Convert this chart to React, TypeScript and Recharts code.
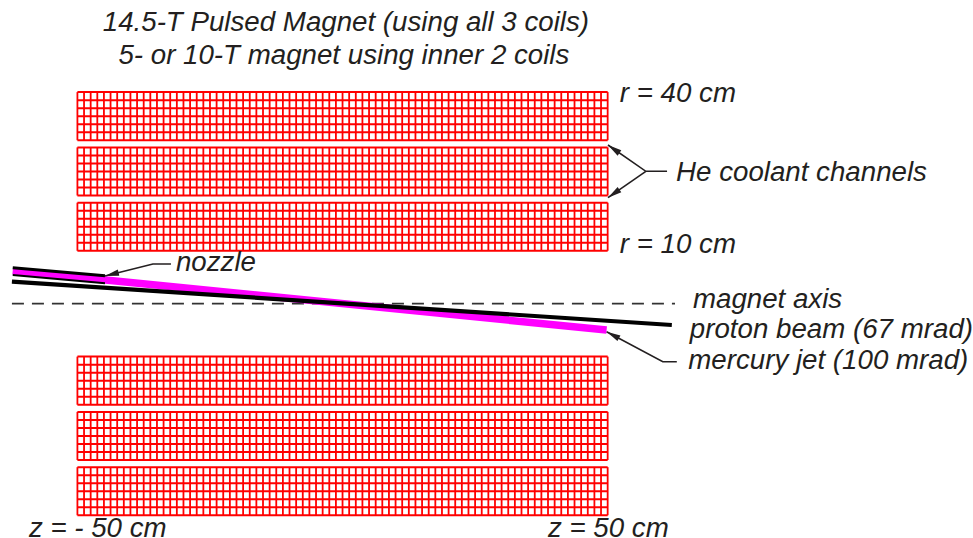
import React from "react";
import { ComposedChart, Line, ReferenceDot, ReferenceLine, XAxis, YAxis } from "recharts";

// all positions in cm: z along the magnet, r from the magnet axis
const zDomain = [-64.6, 118.9];
const rDomain = [-44.29, 57.41];

const coilZ = [
  -50, -48.75, -47.5, -46.25, -45, -43.75, -42.5, -41.25, -40, -38.75, -37.5, -36.25, -35, -33.75,
  -32.5, -31.25, -30, -28.75, -27.5, -26.25, -25, -23.75, -22.5, -21.25, -20, -18.75, -17.5, -16.25,
  -15, -13.75, -12.5, -11.25, -10, -8.75, -7.5, -6.25, -5, -3.75, -2.5, -1.25, 0, 1.25, 2.5, 3.75, 5,
  6.25, 7.5, 8.75, 10, 11.25, 12.5, 13.75, 15, 16.25, 17.5, 18.75, 20, 21.25, 22.5, 23.75, 25, 26.25,
  27.5, 28.75, 30, 31.25, 32.5, 33.75, 35, 36.25, 37.5, 38.75, 40, 41.25, 42.5, 43.75, 45, 46.25,
  47.5, 48.75, 50,
];
const innerCoilR = [10, 11.52, 13.03, 14.55, 16.07, 17.58, 19.1];
const middleCoilR = [20.45, 21.97, 23.48, 25, 26.52, 28.03, 29.55];
const outerCoilR = [30.9, 32.42, 33.93, 35.45, 36.97, 38.48, 40];

const magnetAxis = [
  { z: -62.35, r: 0 },
  { z: 62.7, r: 0 },
];
const mercuryJet = [
  { z: -62.2, r: 6.24 },
  { z: 49.8, r: -4.97 },
];
const protonBeam = [
  { z: -62.35, r: 4.16 },
  { z: 62.1, r: -4.03 },
];
const nozzleTop = [
  { z: -62.2, r: 6.8 },
  { z: -44.8, r: 5.29 },
];
const nozzleBottom = [
  { z: -62.2, r: 5.43 },
  { z: -44.8, r: 3.86 },
];

const nozzleLeader = [
  { z: -44.8, r: 5.24 },
  { z: -35.76, r: 7.5 },
  { z: -32.36, r: 7.5 },
];
const heLeaderTop = [
  { z: 50.06, r: 30 },
  { z: 57.2, r: 25.03 },
  { z: 61.2, r: 25.03 },
];
const heLeaderBottom = [
  { z: 50.06, r: 20.04 },
  { z: 57.2, r: 25.03 },
];
const mercuryLeader = [
  { z: 49.8, r: -5.29 },
  { z: 60.4, r: -10.96 },
  { z: 63.04, r: -10.96 },
];

const labels = [
  { text: "14.5-T Pulsed Magnet (using all 3 coils)", z: 0.64, r: 51.55, anchor: "middle" },
  { text: "5- or 10-T magnet using inner 2 coils", z: 0.26, r: 45.3, anchor: "middle" },
  { text: "r = 40 cm", z: 52.3, r: 38.15, anchor: "start" },
  { text: "He coolant channels", z: 62.9, r: 23.2, anchor: "start" },
  { text: "r = 10 cm", z: 52.3, r: 9.58, anchor: "start" },
  { text: "nozzle", z: -31.42, r: 6.18, anchor: "start" },
  { text: "magnet axis", z: 66.08, r: -0.81, anchor: "start" },
  { text: "proton beam (67 mrad)", z: 65.5, r: -6.48, anchor: "start" },
  { text: "mercury jet (100 mrad)", z: 65.2, r: -12.34, anchor: "start" },
  { text: "z = - 50 cm", z: -59.15, r: -44.15, anchor: "start" },
  { text: "z = 50 cm", z: 38.74, r: -44.15, anchor: "start" },
];

const INK = "#231f20";

function coilLines(rows: number[], key: string) {
  const rMin = Math.min(...rows);
  const rMax = Math.max(...rows);
  return [
    ...rows.map((r) => (
      <ReferenceLine
        key={`${key}-r${r}`}
        segment={[{ x: coilZ[0], y: r }, { x: coilZ[coilZ.length - 1], y: r }]}
        stroke="#ff0000"
        strokeWidth={2}
      />
    )),
    ...coilZ.map((z) => (
      <ReferenceLine
        key={`${key}-z${z}`}
        segment={[{ x: z, y: rMin }, { x: z, y: rMax }]}
        stroke="#ff0000"
        strokeWidth={1.8}
      />
    )),
  ];
}

// arrow head on the first point of a leader line
function arrowDot(points: { z: number; r: number }[]) {
  const angle =
    (Math.atan2(points[0].r - points[1].r, points[1].z - points[0].z) * 180) / Math.PI;
  return (props: any) => {
    if (props.index !== 0) return <g key={props.index} />;
    return (
      <polygon
        key={props.index}
        points="0,0 14,-3.2 14,3.2"
        fill={INK}
        transform={`translate(${props.cx} ${props.cy}) rotate(${angle})`}
      />
    );
  };
}

function leader(points: { z: number; r: number }[], key: string) {
  return (
    <Line
      key={key}
      data={points}
      dataKey="r"
      stroke={INK}
      strokeWidth={1.6}
      type="linear"
      dot={arrowDot(points)}
      activeDot={false}
      legendType="none"
      isAnimationActive={false}
    />
  );
}

function segment(points: { z: number; r: number }[], key: string, color: string, width: number) {
  return (
    <Line
      key={key}
      data={points}
      dataKey="r"
      stroke={color}
      strokeWidth={width}
      type="linear"
      dot={false}
      activeDot={false}
      isAnimationActive={false}
    />
  );
}

export default function App() {
  return (
    <div style={{ position: "absolute", left: 0, top: 0, width: 973, height: 538, background: "#fff" }}>
      <ComposedChart width={973} height={538} margin={{ top: 0, right: 0, bottom: 0, left: 0 }}>
        <XAxis dataKey="z" type="number" domain={zDomain} hide allowDataOverflow />
        <YAxis type="number" domain={rDomain} hide allowDataOverflow />

        {coilLines(innerCoilR, "in")}
        {coilLines(middleCoilR, "mid")}
        {coilLines(outerCoilR, "out")}
        {coilLines(innerCoilR.map((r) => -r), "inL")}
        {coilLines(middleCoilR.map((r) => -r), "midL")}
        {coilLines(outerCoilR.map((r) => -r), "outL")}

        <Line
          data={magnetAxis}
          dataKey="r"
          stroke="#333333"
          strokeWidth={1.7}
          strokeDasharray="12 8"
          dot={false}
          activeDot={false}
          isAnimationActive={false}
        />
        {segment(mercuryJet, "jet", "#ff00ff", 7.5)}
        {segment(protonBeam, "beam", "#000000", 4.2)}
        {segment(nozzleTop, "nozzleTop", "#000000", 3)}
        {segment(nozzleBottom, "nozzleBottom", "#000000", 2)}

        {leader(nozzleLeader, "nozzleLeader")}
        {leader(heLeaderTop, "heTop")}
        {leader(heLeaderBottom, "heBottom")}
        {leader(mercuryLeader, "mercuryLeader")}

        {labels.map((l) => (
          <ReferenceDot
            key={l.text}
            x={l.z}
            y={l.r}
            r={0}
            shape={(p: any) => (
              <text
                x={p.cx}
                y={p.cy}
                textAnchor={l.anchor as any}
                fill={INK}
                fontFamily="'Liberation Sans', Arial, sans-serif"
                fontStyle="italic"
                fontSize={27.7}
              >
                {l.text}
              </text>
            )}
          />
        ))}
      </ComposedChart>
    </div>
  );
}
